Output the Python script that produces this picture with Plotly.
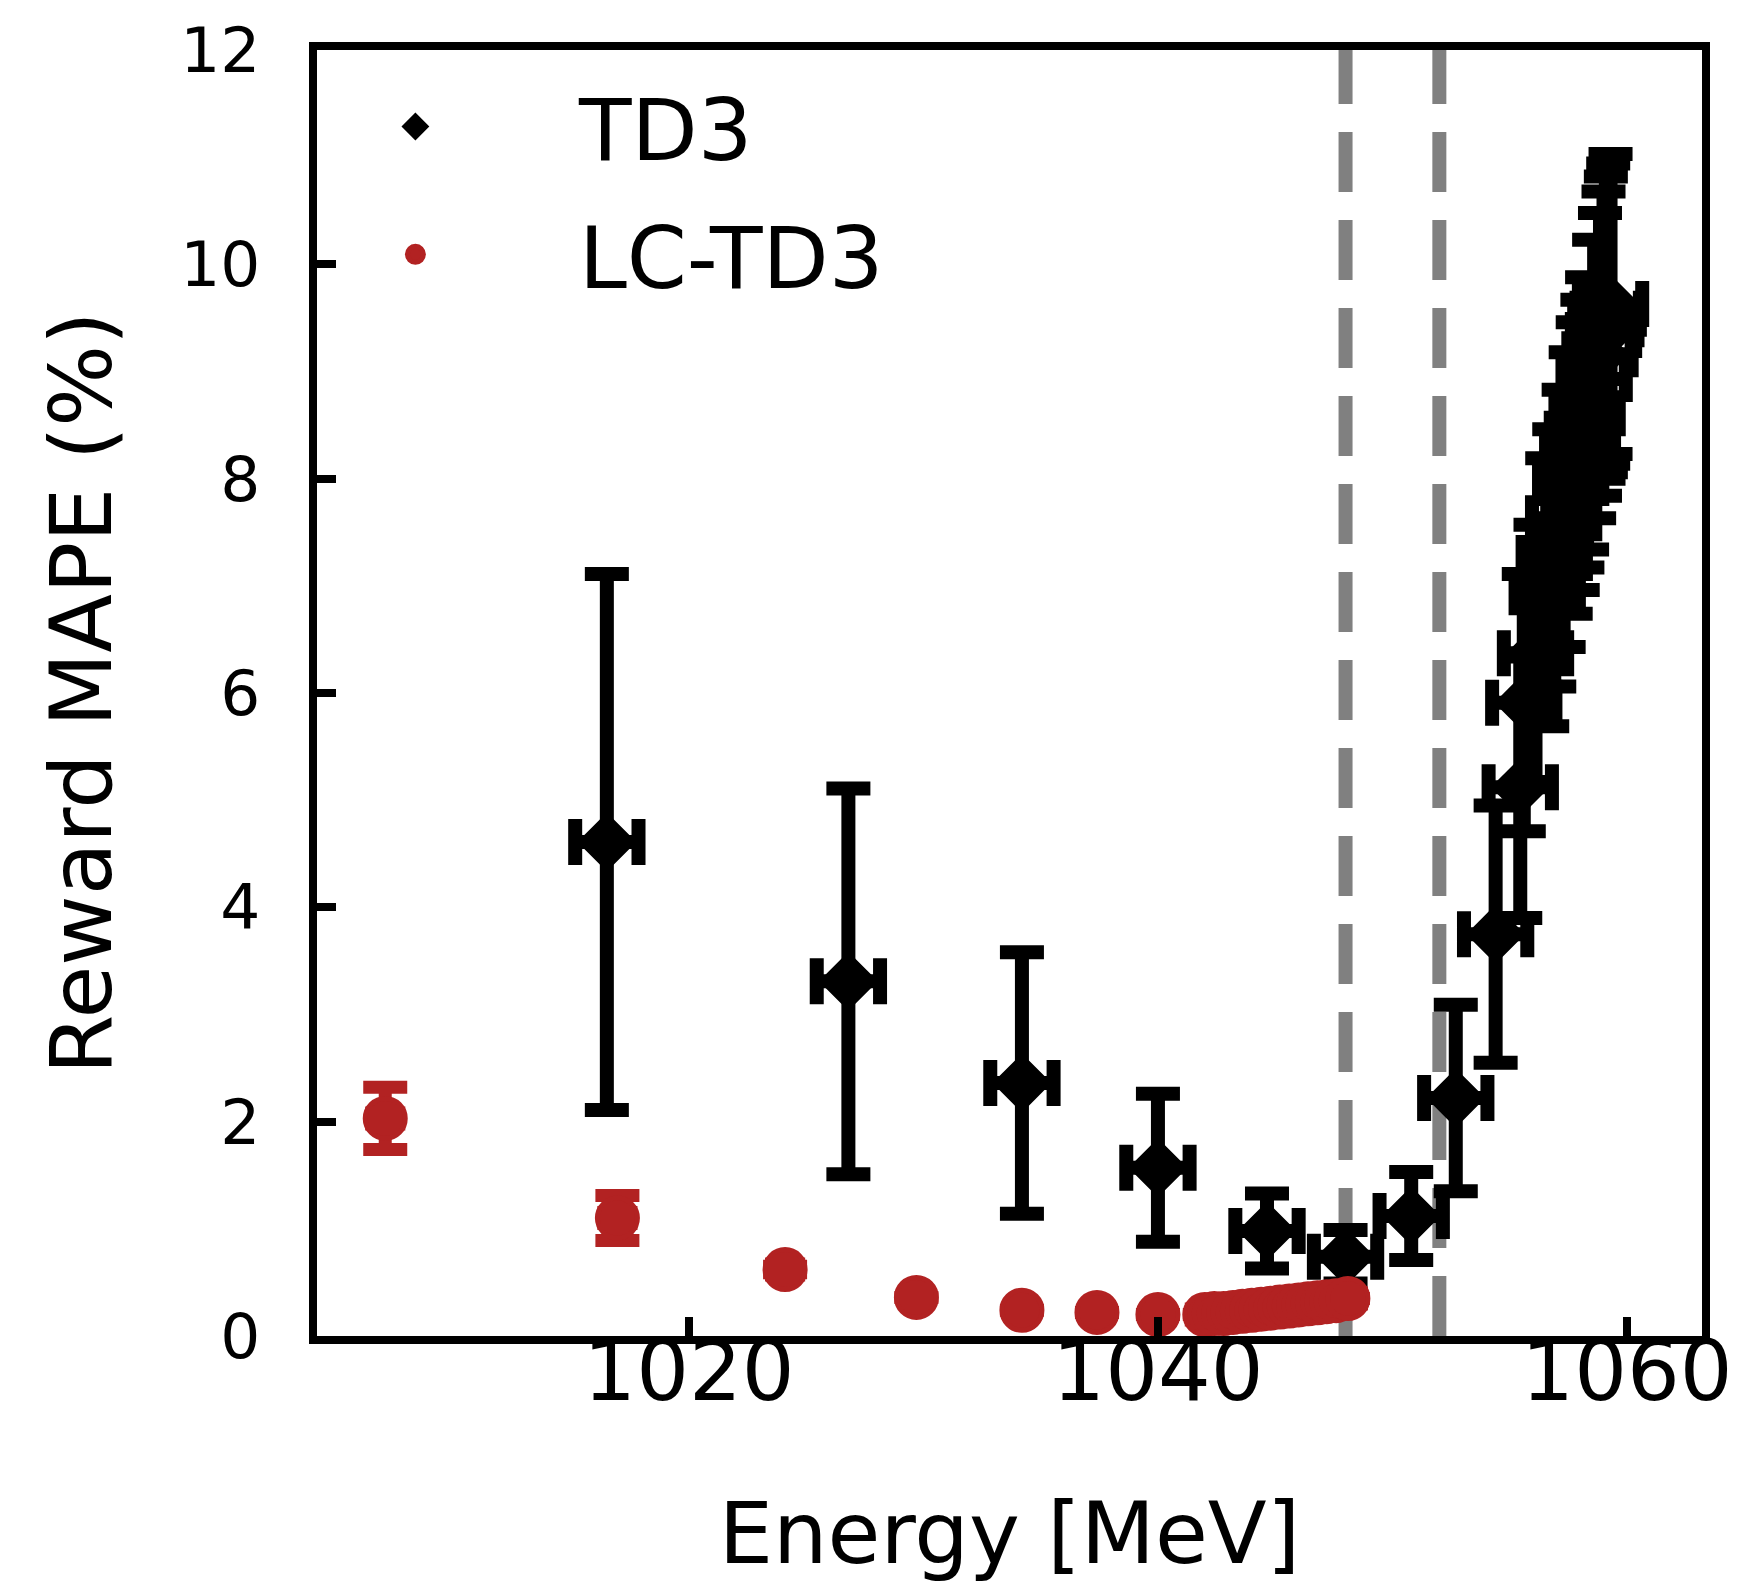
import plotly.graph_objects as go

# ---- data ----
td3_energy = [1016.5, 1026.8, 1034.2, 1040.0, 1044.65, 1048.0, 1050.8, 1052.7, 1054.4, 1055.45,
              1055.6, 1056.1, 1056.6, 1056.9, 1057.3, 1057.6, 1057.9, 1058.1, 1058.3, 1058.6,
              1058.85, 1059.0, 1059.1, 1059.2, 1059.3]
td3_mape = [4.61, 3.31, 2.36, 1.57, 0.98, 0.74, 1.12, 2.22, 3.75, 5.12,
            5.91, 6.37, 6.94, 7.26, 7.63, 7.96, 8.21, 8.42, 8.61, 8.93,
            9.16, 9.34, 9.44, 9.54, 9.63]
td3_mape_err = [2.5, 1.8, 1.22, 0.69, 0.35, 0.25, 0.41, 0.87, 1.2, 1.22,
                1.2, 1.2, 1.25, 1.2, 1.2, 1.22, 1.25, 1.25, 1.27, 1.3,
                1.32, 1.34, 1.38, 1.4, 1.4]
td3_energy_err = [1.35] * len(td3_energy)

lc_energy = [1007.05, 1016.95, 1024.1, 1029.7, 1034.2, 1037.4, 1040.0,
             1042.0, 1042.4, 1042.8, 1043.2, 1043.6, 1044.0, 1044.4, 1044.8, 1045.2,
             1045.6, 1046.0, 1046.4, 1046.8, 1047.2, 1047.6, 1048.1]
lc_mape = [2.03, 1.10, 0.62, 0.36, 0.24, 0.22, 0.20,
           0.20, 0.21, 0.21, 0.22, 0.23, 0.24, 0.25, 0.26, 0.27,
           0.28, 0.29, 0.30, 0.31, 0.32, 0.33, 0.35]
lc_mape_err = [0.29, 0.21, 0.03, 0.0, 0.0, 0.0, 0.0,
               0.0, 0.0, 0.0, 0.0, 0.0, 0.0, 0.0, 0.0, 0.0,
               0.0, 0.0, 0.0, 0.0, 0.0, 0.0, 0.0]
lc_energy_err = [0.6, 0.6, 0.6, 0.0, 0.0, 0.0, 0.0,
                 0.6, 0.6, 0.6, 0.6, 0.6, 0.6, 0.6, 0.6, 0.6,
                 0.6, 0.6, 0.6, 0.6, 0.6, 0.6, 0.6]

threshold_energies = [1048.0, 1052.0]

x_tick_vals = [1020, 1040, 1060]
y_tick_vals = [0, 2, 4, 6, 8, 10, 12]

BLACK = "#000000"
RED = "#B22222"
GRAY = "#808080"
FONT = "DejaVu Sans"

fig = go.Figure()

fig.add_trace(go.Scatter(
    x=td3_energy, y=td3_mape, mode="markers", name="TD3", legendgroup="td3",
    marker=dict(symbol="diamond", size=40, color=BLACK, line=dict(color=BLACK, width=5)),
    error_y=dict(type="data", array=td3_mape_err, visible=True, color=BLACK, thickness=14, width=22),
    error_x=dict(type="data", array=td3_energy_err, visible=True, color=BLACK, thickness=14, width=23),
))

fig.add_trace(go.Scatter(
    x=lc_energy, y=lc_mape, mode="markers", name="LC-TD3", legendgroup="lc",
    marker=dict(symbol="circle", size=40, color=RED, line=dict(color=RED, width=5)),
    error_y=dict(type="data", array=lc_mape_err, visible=True, color=RED, thickness=13, width=22),
    error_x=dict(type="data", array=lc_energy_err, visible=True, color=RED, thickness=12, width=12),
))

for e in threshold_energies:
    fig.add_shape(type="line", xref="x", yref="paper", x0=e, x1=e, y0=0, y1=1,
                  line=dict(color=GRAY, width=14, dash="60px,28px"), layer="below")

axis_common = dict(
    showline=True, linecolor=BLACK, linewidth=8, mirror=True,
    ticks="inside", ticklen=19, tickwidth=8, tickcolor=BLACK,
    showgrid=False, zeroline=False,
)

fig.update_xaxes(
    range=[1004.14, 1063.2], tickvals=x_tick_vals, ticktext=[str(v) for v in x_tick_vals],
    tickfont=dict(family=FONT, size=83, color=BLACK),
    title=dict(text="Energy [MeV]", font=dict(family=FONT, size=86, color=BLACK), standoff=87),
    ticklabelstandoff=-44,
    **axis_common,
)
fig.update_yaxes(
    range=[0, 12], tickvals=y_tick_vals, ticktext=[str(v) for v in y_tick_vals],
    tickfont=dict(family=FONT, size=63, color=BLACK),
    title=dict(text="Reward MAPE (%)", font=dict(family=FONT, size=86, color=BLACK), standoff=43),
    ticklabelstandoff=36,
    **axis_common,
)

fig.update_layout(
    width=1747, height=1596,
    margin=dict(l=317, r=45, t=50, b=260, autoexpand=False),
    paper_bgcolor="white", plot_bgcolor="white",
    font=dict(family=FONT, size=86, color=BLACK),
    showlegend=True,
    legend=dict(x=-0.047, y=0.989, xanchor="left", yanchor="top",
                bgcolor="rgba(0,0,0,0)", font=dict(family=FONT, size=86, color=BLACK),
                itemwidth=317, traceorder="grouped", tracegroupgap=13),
)

fig.write_html("out.html", config={"displayModeBar": False},
               post_script="document.body.style.margin='0px';")
